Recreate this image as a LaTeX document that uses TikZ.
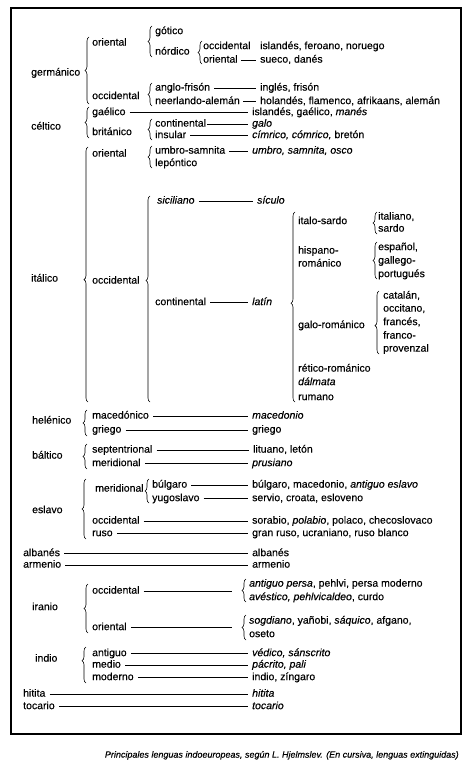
\documentclass[tikz,border=0pt]{standalone}
\usepackage{fontspec}
\setmainfont{Liberation Sans}[FakeBold=0.3]
\usetikzlibrary{decorations.pathreplacing}
\newcommand\fs{\fontsize{10.5}{12}\selectfont}
\newcommand\myconn[3][4]{\draw[con] ([xshift=#1pt]#2.mid east) -- ([xshift=-4pt]#3.mid west);}
\begin{document}
\begin{tikzpicture}[x=1pt,y=-1pt,
 t/.style={anchor=mid west, inner sep=0pt, font=\fs},
 con/.style={line width=0.6pt},
 br/.style={decorate, decoration={brace, amplitude=4pt, aspect=#1}, line width=0.6pt},
 br/.default=0.5]
\useasboundingbox (0,0) rectangle (469,773);
\draw[line width=1.1pt] (11,8) rectangle (461,734);

% ---------------- germanico
\node[t] (germ) at (31,73) {germánico};
\node[t] (germOr) at (92,43) {oriental};
\node[t] (germOc) at (92,96.5) {occidental};
\node[t] (gotico) at (155,31.5) {gótico};
\node[t] (nordico) at (155,52) {nórdico};
\node[t] (nOcc) at (203,46.5) {occidental};
\node[t] (nOr) at (203,60) {oriental};
\node[t] (islandes) at (260,46.5) {islandés, feroano, noruego};
\node[t] (sueco) at (260,60) {sueco, danés};
\node[t] (anglo) at (155,88) {anglo-frisón};
\node[t] (neer) at (155,101.5) {neerlando-alemán};
\node[t] (ingles) at (260,88) {inglés, frisón};
\node[t] (holandes) at (260,101.5) {holandés, flamenco, afrikaans, alemán};
\draw[br] (89,104) -- (89,37);
\draw[br] (152,57) -- (152,26);
\draw[br] (202,64) -- (202,41);
\draw[br] (152,106) -- (152,83);
\myconn[3]{nOr}{sueco}
\myconn{anglo}{ingles}
\myconn[3]{neer}{holandes}

% ---------------- celtico
\node[t] (celt) at (31,127) {céltico};
\node[t] (gaelico) at (92,112.5) {gaélico};
\node[t] (britanico) at (92,132.5) {británico};
\node[t] (contin) at (155,124) {continental};
\node[t] (insular) at (155,135.5) {insular};
\node[t] (islGa) at (252,112.5) {islandés, gaélico, \textit{manés}};
\node[t] (galo) at (252,124) {\textit{galo}};
\node[t] (cimrico) at (252,135.5) {\textit{címrico, cómrico,} bretón};
\draw[br] (89,138) -- (89,107);
\draw[br] (152,140) -- (152,119);
\myconn{gaelico}{islGa}
\myconn[1]{contin}{galo}
\myconn{insular}{cimrico}

% ---------------- italico
\node[t] (ital) at (31,279) {itálico};
\node[t] (itOr) at (92,154) {oriental};
\node[t] (itOc) at (92,281) {occidental};
\node[t] (umbro) at (155,151) {umbro-samnita};
\node[t] (lepont) at (155,163.5) {lepóntico};
\node[t] (umbroR) at (252,151) {\textit{umbro, samnita, osco}};
\node[t] (sicil) at (157,201) {\textit{siciliano}};
\node[t] (siculo) at (257,201) {\textit{sículo}};
\node[t] (itCont) at (155,302.5) {continental};
\node[t] (latin) at (252,302.5) {\textit{latín}};
\node[t] (italoS) at (298,221.5) {italo-sardo};
\node[t] (italiano) at (378,217) {italiano,};
\node[t] (sardo) at (378,229) {sardo};
\node[t] (hispano) at (298,251) {hispano-};
\node[t] (romanico) at (298,264) {románico};
\node[t] (espanol) at (378,247.5) {español,};
\node[t] (gallego) at (378,261) {gallego-};
\node[t] (portugues) at (378,274.5) {portugués};
\node[t] (galoR) at (298,325.5) {galo-románico};
\node[t] (catalan) at (383,296) {catalán,};
\node[t] (occitano) at (383,309) {occitano,};
\node[t] (frances) at (383,322.5) {francés,};
\node[t] (franco) at (383,336) {franco-};
\node[t] (provenzal) at (383,349) {provenzal};
\node[t] (retico) at (298,369) {rético-románico};
\node[t] (dalmata) at (298,382.5) {\textit{dálmata}};
\node[t] (rumano) at (298,397.5) {rumano};
\draw[br=0.48] (88,402) -- (88,147);
\draw[br] (152,168) -- (152,146);
\draw[br=0.59] (150,402) -- (150,196);
\draw[br=0.52] (295,402) -- (295,212);
\draw[br] (377,234) -- (377,212);
\draw[br] (377,279) -- (377,242);
\draw[br=0.45] (379,354) -- (379,291);
\myconn{umbro}{umbroR}
\myconn{sicil}{siculo}
\myconn{itCont}{latin}

% ---------------- helenico, baltico
\node[t] (helen) at (32,421) {helénico};
\node[t] (maced) at (92,416) {macedónico};
\node[t] (macedR) at (252,416) {\textit{macedonio}};
\node[t] (griego) at (92,430) {griego};
\node[t] (griegoR) at (252,430) {griego};
\draw[br] (87,436) -- (87,410);
\myconn{maced}{macedR}
\myconn{griego}{griegoR}

\node[t] (baltico) at (32,456) {báltico};
\node[t] (sept) at (92,450) {septentrional};
\node[t] (lituano) at (253,450) {lituano, letón};
\node[t] (merid) at (92,463.5) {meridional};
\node[t] (prusiano) at (252,463.5) {\textit{prusiano}};
\draw[br] (87,469) -- (87,444);
\myconn{sept}{lituano}
\myconn{merid}{prusiano}

% ---------------- eslavo
\node[t] (eslavo) at (32,510.5) {eslavo};
\node[t] (eMer) at (95,489) {meridional};
\node[t] (bulgaro) at (152,485) {búlgaro};
\node[t] (bulgR) at (252,485) {búlgaro, macedonio, \textit{antiguo eslavo}};
\node[t] (yugo) at (152,498.5) {yugoslavo};
\node[t] (servio) at (252,498.5) {servio, croata, esloveno};
\node[t] (eOcc) at (92,521) {occidental};
\node[t] (sorabio) at (252,521) {sorabio, \textit{polabio}, polaco, checoslovaco};
\node[t] (ruso) at (92,533.5) {ruso};
\node[t] (granruso) at (252,533.5) {gran ruso, ucraniano, ruso blanco};
\draw[br] (86,539) -- (86,479);
\draw[br] (149,503) -- (149,479);
\myconn{bulgaro}{bulgR}
\myconn{yugo}{servio}
\myconn{eOcc}{sorabio}
\myconn{ruso}{granruso}

% ---------------- albanes, armenio
\node[t] (albanes) at (23,553.5) {albanés};
\node[t] (albanesR) at (252,553.5) {albanés};
\node[t] (armenio) at (23,565) {armenio};
\node[t] (armenioR) at (252,565) {armenio};
\myconn{albanes}{albanesR}
\myconn{armenio}{armenioR}

% ---------------- iranio
\node[t] (iranio) at (32,607.5) {iranio};
\node[t] (irOcc) at (92,591) {occidental};
\node[t] (persa) at (249,584) {\textit{antiguo persa}, pehlvi, persa moderno};
\node[t] (avestico) at (249,597.5) {\textit{avéstico, pehlvicaldeo}, curdo};
\node[t] (irOr) at (92,627.5) {oriental};
\node[t] (sogd) at (249,621) {\textit{sogdiano}, yañobi, \textit{sáquico}, afgano,};
\node[t] (oseto) at (249,634.5) {oseto};
\coordinate (irOccEnd) at (232,591);
\coordinate (irOrEnd) at (232,627.5);
\draw[br] (88,633) -- (88,584);
\draw[br] (246,602) -- (246,579);
\draw[br] (246,640) -- (246,615);
\draw[con] ([xshift=4pt]irOcc.mid east) -- (irOccEnd);
\draw[con] ([xshift=4pt]irOr.mid east) -- (irOrEnd);

% ---------------- indio
\node[t] (indio) at (35,659) {indio};
\node[t] (antiguo) at (92,653.5) {antiguo};
\node[t] (vedico) at (252,653.5) {\textit{védico, sánscrito}};
\node[t] (medio) at (92,665) {medio};
\node[t] (pacrito) at (252,665) {\textit{pácrito, pali}};
\node[t] (moderno) at (92,677.5) {moderno};
\node[t] (indioR) at (252,677.5) {indio, zíngaro};
\draw[br=0.62] (86,683) -- (86,647);
\myconn{antiguo}{vedico}
\myconn{medio}{pacrito}
\myconn{moderno}{indioR}

% ---------------- hitita, tocario
\node[t] (hitita) at (23,694) {hitita};
\node[t] (hititaR) at (252,694) {\textit{hitita}};
\node[t] (tocario) at (23,706.5) {tocario};
\node[t] (tocarioR) at (252,706.5) {\textit{tocario}};
\myconn{hitita}{hititaR}
\myconn{tocario}{tocarioR}

% ---------------- caption
\node[anchor=mid east, inner sep=0pt, font=\fontsize{9}{10}\selectfont\itshape] (cap) at (459,755) {Principales lenguas indoeuropeas, según L. Hjelmslev. (En cursiva, lenguas extinguidas)};
\end{tikzpicture}
\end{document}
